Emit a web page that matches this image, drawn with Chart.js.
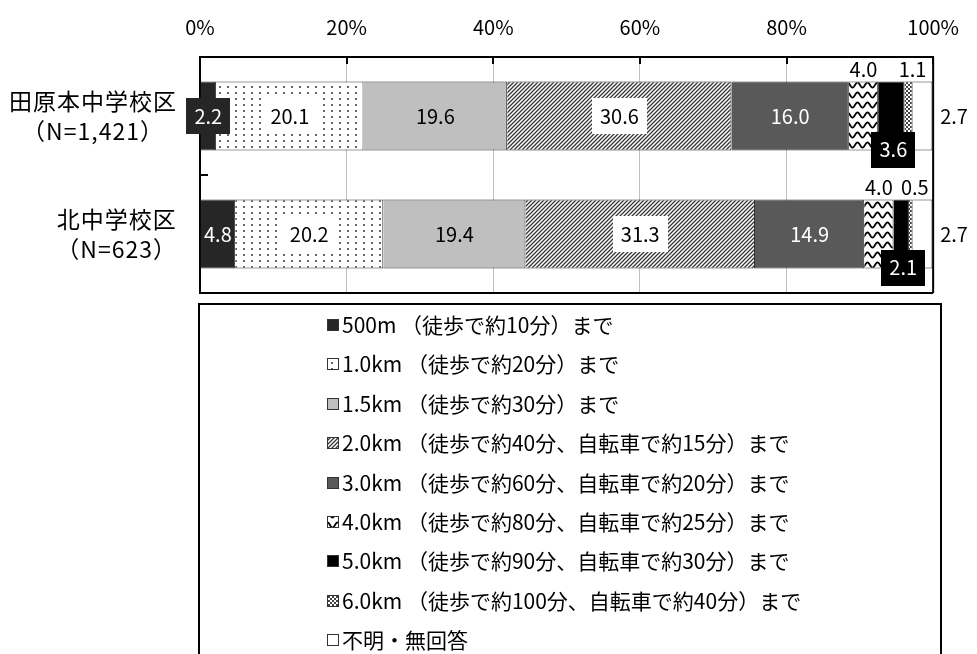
<!DOCTYPE html>
<html lang="ja">
<head>
<meta charset="utf-8">
<script src="https://cdn.jsdelivr.net/npm/chart.js@4.4.1/dist/chart.umd.min.js"></script>
<style>
  html, body { margin: 0; padding: 0; background: #fff; }
  #wrap { width: 977px; height: 654px; }
</style>
</head>
<body>
<div id="wrap"><canvas id="chart" width="977" height="654"></canvas></div>
<script>
// データ
const categories = [['田原本中学校区', '（N=1,421）'], ['北中学校区', '（N=623）']];
const seriesNames = [
  '500m （徒歩で約10分）まで',
  '1.0km （徒歩で約20分）まで',
  '1.5km （徒歩で約30分）まで',
  '2.0km （徒歩で約40分、自転車で約15分）まで',
  '3.0km （徒歩で約60分、自転車で約20分）まで',
  '4.0km （徒歩で約80分、自転車で約25分）まで',
  '5.0km （徒歩で約90分、自転車で約30分）まで',
  '6.0km （徒歩で約100分、自転車で約40分）まで',
  '不明・無回答'
];
const tawaramotoValues = [2.2, 20.1, 19.6, 30.6, 16.0, 4.0, 3.6, 1.1, 2.7];
const kitaValues = [4.8, 20.2, 19.4, 31.3, 14.9, 4.0, 2.1, 0.5, 2.7];
const xTicks = [0, 20, 40, 60, 80, 100];

const FONT = '"Noto Sans CJK JP", "Noto Sans", sans-serif';
const canvas = document.getElementById('chart');
const mainCtx = canvas.getContext('2d');

// 塗りつぶしパターン
function makePattern(w, h, draw) {
  const c = document.createElement('canvas');
  c.width = w; c.height = h;
  const g = c.getContext('2d');
  g.fillStyle = '#fff';
  g.fillRect(0, 0, w, h);
  draw(g);
  return mainCtx.createPattern(c, 'repeat');
}

const dots = makePattern(8, 6, g => {
  g.fillStyle = '#666';
  g.fillRect(3, 2, 2, 2);
});
const hatch = makePattern(4, 4, g => {
  g.strokeStyle = '#333';
  g.lineWidth = 1.25;
  g.beginPath();
  g.moveTo(-1, 5); g.lineTo(5, -1);
  g.moveTo(-1, 1); g.lineTo(1, -1);
  g.moveTo(3, 5); g.lineTo(5, 3);
  g.stroke();
});
const wave = makePattern(10, 10, g => {
  g.strokeStyle = '#000';
  g.lineWidth = 1.8;
  g.beginPath();
  for (let x = -1; x <= 11; x += 0.5) {
    const y = 5 + 2.6 * Math.sin(x / 10 * Math.PI * 2);
    if (x === -1) g.moveTo(x, y); else g.lineTo(x, y);
  }
  g.stroke();
});
const checker = makePattern(4, 4, g => {
  g.fillStyle = '#444';
  g.fillRect(0, 0, 2, 2);
  g.fillRect(2, 2, 2, 2);
});

const fills = ['#262626', dots, '#bfbfbf', hatch, '#595959', wave, '#000000', checker, '#ffffff'];
// ラベルの描き方
const labelStyles = ['fit', 'whiteBox', 'plain', 'whiteBox', 'whiteText', 'above', 'belowBox', 'above', 'right'];
const labelShift = [0, 0, 0, 0, 0, 0, 2, 4, 0];

const datasets = seriesNames.map((name, i) => ({
  label: name,
  data: [tawaramotoValues[i], kitaValues[i]],
  backgroundColor: fills[i],
  borderColor: '#333',
  borderWidth: 1,
  barPercentage: 0.585,
  categoryPercentage: 1.0
}));

function box(ctx, cx, cy, w, h, fill) {
  ctx.fillStyle = fill;
  ctx.fillRect(Math.round(cx - w / 2), Math.round(cy - h / 2), Math.round(w), h);
}

// 区切り線・内向き目盛り
const framePlugin = {
  id: 'frame',
  afterDatasetsDraw(chart) {
    const ctx = chart.ctx;
    const a = chart.chartArea;
    const xs = chart.scales.x;
    const ys = chart.scales.y;
    ctx.save();
    ctx.strokeStyle = '#000';
    ctx.lineWidth = 2;
    ctx.beginPath();
    ctx.moveTo(a.right, a.top); ctx.lineTo(a.right, a.bottom);
    ctx.moveTo(a.left, a.bottom); ctx.lineTo(a.right, a.bottom);
    xTicks.forEach(v => {
      const px = Math.round(xs.getPixelForValue(v));
      ctx.moveTo(px, a.top); ctx.lineTo(px, a.top + 7);
    });
    for (let i = 0; i < categories.length - 1; i++) {
      const py = Math.round((ys.getPixelForValue(i) + ys.getPixelForValue(i + 1)) / 2);
      ctx.moveTo(a.left, py); ctx.lineTo(a.left + 8, py);
    }
    ctx.stroke();
    ctx.restore();
  }
};

// データラベル
const labelPlugin = {
  id: 'segmentLabels',
  afterDatasetsDraw(chart) {
    const ctx = chart.ctx;
    const a = chart.chartArea;
    ctx.save();
    ctx.font = '20px ' + FONT;
    ctx.textBaseline = 'middle';
    chart.data.datasets.forEach((ds, di) => {
      const meta = chart.getDatasetMeta(di);
      meta.data.forEach((el, ci) => {
        const p = el.getProps(['x', 'y', 'base', 'height'], true);
        const text = ds.data[ci].toFixed(1);
        const tw = ctx.measureText(text).width;
        const left = Math.min(p.x, p.base), right = Math.max(p.x, p.base);
        const cx = (left + right) / 2 + labelShift[di];
        const top = p.y - p.height / 2, bottom = p.y + p.height / 2;
        const style = labelStyles[di];
        ctx.textAlign = 'center';
        if (style === 'fit') {
          if (tw + 6 > right - left) box(ctx, cx, p.y, tw + 16, 36, ds.backgroundColor);
          ctx.fillStyle = '#fff';
          ctx.fillText(text, cx, p.y);
        } else if (style === 'whiteBox') {
          box(ctx, cx, p.y, tw + 16, 36, '#fff');
          ctx.fillStyle = '#000';
          ctx.fillText(text, cx, p.y);
        } else if (style === 'plain') {
          ctx.fillStyle = '#000';
          ctx.fillText(text, cx, p.y);
        } else if (style === 'whiteText') {
          ctx.fillStyle = '#fff';
          ctx.fillText(text, cx, p.y);
        } else if (style === 'above') {
          ctx.fillStyle = '#000';
          ctx.fillText(text, cx, top - 12);
        } else if (style === 'belowBox') {
          box(ctx, cx, bottom - 1, tw + 16, 36, '#000');
          ctx.fillStyle = '#fff';
          ctx.fillText(text, cx, bottom - 1);
        } else if (style === 'right') {
          ctx.textAlign = 'left';
          ctx.fillStyle = '#000';
          ctx.fillText(text, a.right + 7, p.y);
        }
      });
    });
    ctx.restore();
  }
};

// カテゴリラベル（行ごとに中央揃え、ブロックは右揃え）
const categoryPlugin = {
  id: 'categoryLabels',
  afterDraw(chart) {
    const ctx = chart.ctx;
    const ys = chart.scales.y;
    ctx.save();
    ctx.font = '23px ' + FONT;
    ctx.letterSpacing = '1px';
    ctx.fillStyle = '#000';
    ctx.textAlign = 'center';
    ctx.textBaseline = 'middle';
    chart.data.labels.forEach((lines, i) => {
      const yc = ys.getPixelForValue(i);
      const blockW = Math.max(...lines.map(l => ctx.measureText(l).width));
      const cx = 177 - blockW / 2;
      lines.forEach((l, k) => {
        ctx.fillText(l, cx, yc + (k - (lines.length - 1) / 2) * 30);
      });
    });
    ctx.restore();
  }
};

// 枠付き凡例（1行に1項目）
const legendPlugin = {
  id: 'boxLegend',
  afterDraw(chart) {
    const ctx = chart.ctx;
    const a = chart.chartArea;
    const top = a.bottom + 11;
    ctx.save();
    ctx.strokeStyle = '#000';
    ctx.lineWidth = 2;
    ctx.strokeRect(199, top, 742, 400);
    ctx.font = '21px ' + FONT;
    ctx.textBaseline = 'middle';
    ctx.textAlign = 'left';
    chart.data.datasets.forEach((ds, i) => {
      const y = Math.round(top + 21 + i * 39.4);
      ctx.fillStyle = ds.backgroundColor;
      ctx.fillRect(327, y - 6, 12, 12);
      ctx.strokeStyle = '#333';
      ctx.lineWidth = 1;
      ctx.strokeRect(327.5, y - 5.5, 11, 11);
      ctx.fillStyle = '#000';
      ctx.fillText(ds.label, 342, y);
    });
    ctx.restore();
  }
};

new Chart(canvas, {
  type: 'bar',
  data: { labels: categories, datasets: datasets },
  options: {
    indexAxis: 'y',
    responsive: false,
    animation: false,
    layout: { padding: { left: 0, right: 39, top: 0, bottom: 361 } },
    plugins: {
      legend: { display: false },
      tooltip: { enabled: false }
    },
    scales: {
      x: {
        position: 'top',
        stacked: true,
        min: 0,
        max: 100,
        afterBuildTicks: s => { s.ticks = xTicks.map(v => ({ value: v })); },
        afterFit: s => { s.height = 57; },
        ticks: {
          padding: 18,
          color: '#000',
          font: { family: FONT, size: 20 },
          callback: v => v + '%'
        },
        grid: { color: '#bfbfbf', lineWidth: 1, drawTicks: false },
        border: { display: true, color: '#000', width: 2 }
      },
      y: {
        stacked: true,
        afterFit: s => { s.width = 200; },
        ticks: { display: false },
        grid: { display: false, drawTicks: false },
        border: { display: true, color: '#000', width: 2 }
      }
    }
  },
  plugins: [framePlugin, labelPlugin, categoryPlugin, legendPlugin]
});
</script>
</body>
</html>
